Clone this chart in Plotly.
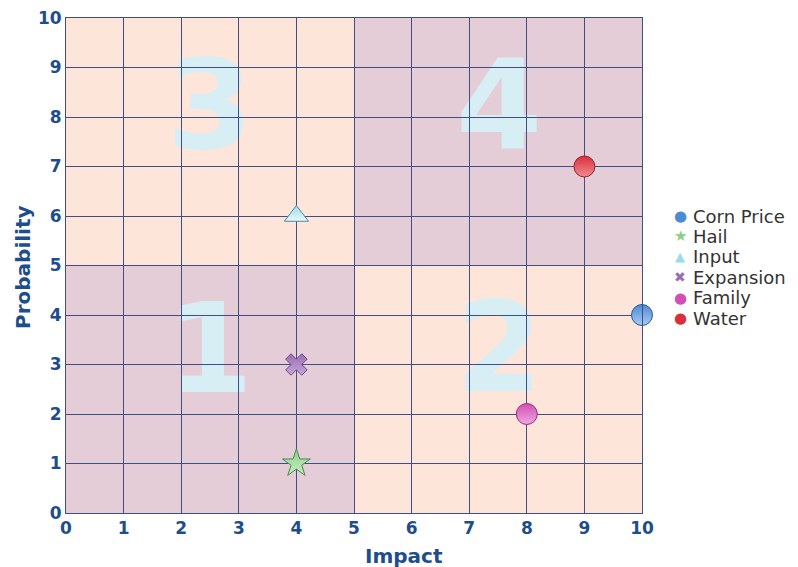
import plotly.graph_objects as go

# Risk items: impact (x) vs probability (y)
risk_names = ["Corn Price", "Hail", "Input", "Expansion", "Family", "Water"]
impact = [10, 4, 4, 4, 8, 9]
probability = [4, 1, 6, 3, 2, 7]
symbols = ["circle", "star", "triangle-up", "x", "circle", "circle"]
marker_sizes = [21, 21, 21, 19, 21, 21]
legend_glyphs = ["●", "★", "▲", "✖", "●", "●"]
fill_colors = ["#4c8ad6", "#8ccf88", "#9edbe8", "#9a6cb3", "#d24fb6", "#d9303b"]
gradient_colors = ["#a9cbf2", "#c9eec5", "#e6f8fc", "#c7a6d8", "#f0a6e0", "#f08a91"]
line_colors = ["#2a5a95", "#4d874c", "#4c8a9a", "#6f4a85", "#93307f", "#95212a"]

# Quadrant labels
quad_labels = ["1", "2", "3", "4"]
quad_x = [2.5, 7.52, 2.5, 7.52]
quad_y = [3.5, 3.52, 8.42, 8.4]

mauve = "#e5cdd8"
peach = "#fee5d9"
navy = "#1e4d8c"
grid = "#3f4f86"
font = "DejaVu Sans"

fig = go.Figure()

for name, x, y, sym, sz, fc, gc, lc in zip(risk_names, impact, probability, symbols,
                                           marker_sizes, fill_colors, gradient_colors,
                                           line_colors):
    fig.add_trace(go.Scatter(
        x=[x], y=[y], mode="markers", name=name, showlegend=False,
        marker=dict(symbol=sym, size=sz, color=fc,
                    line=dict(color=lc, width=1),
                    gradient=dict(type="vertical", color=gc)),
        cliponaxis=False,
    ))

# Quadrant fills
quads = [(0, 5, 0, 5, mauve), (5, 10, 5, 10, mauve), (0, 5, 5, 10, peach), (5, 10, 0, 5, peach)]
for x0, x1, y0, y1, c in quads:
    fig.add_shape(type="rect", x0=x0, x1=x1, y0=y0, y1=y1, fillcolor=c,
                  line=dict(width=0), layer="below")

# Big quadrant numbers, kept beneath the grid
for t, x, y in zip(quad_labels, quad_x, quad_y):
    fig.add_shape(type="rect", x0=x - 1, x1=x + 1, y0=y - 1, y1=y + 1,
                  fillcolor="rgba(0,0,0,0)", line=dict(width=0), layer="below",
                  label=dict(text=t, textposition="middle center",
                             font=dict(family=font, size=124, color="#d6eef4", weight="bold")))

axis_common = dict(
    range=[0, 10], dtick=1, tick0=0, showgrid=True, gridcolor=grid, gridwidth=1,
    zeroline=False, showline=True, linecolor=grid, linewidth=1, mirror=True,
    ticks="", fixedrange=True, automargin=False,
    tickfont=dict(family=font, size=17, color=navy, weight="bold"),
)
fig.update_xaxes(**axis_common)
fig.update_yaxes(**axis_common)

# Axis titles
fig.add_annotation(xref="paper", yref="paper", x=(404 - 66) / 576, y=-(556 - 513) / 495,
                   text="Impact", showarrow=False, xanchor="center", yanchor="middle",
                   font=dict(family=font, size=20, color=navy, weight="bold"))
fig.add_annotation(xref="paper", yref="paper", x=-(66 - 23) / 576, y=(513 - 267) / 495,
                   text="Probability", showarrow=False, textangle=-90,
                   xanchor="center", yanchor="middle",
                   font=dict(family=font, size=20, color=navy, weight="bold"))

# Legend rows
for i, (name, g, fc) in enumerate(zip(risk_names, legend_glyphs, fill_colors)):
    ypx = 216 + i * 20.4
    yp = (513 - ypx) / 495
    gsize = {"●": 15, "★": 15, "▲": 13, "✖": 14}[g]
    fig.add_annotation(xref="paper", yref="paper", x=(680 - 66) / 576, y=yp,
                       text=g, showarrow=False, xanchor="center", yanchor="middle",
                       font=dict(family=font, size=gsize, color=fc))
    fig.add_annotation(xref="paper", yref="paper", x=(691 - 66) / 576, y=yp,
                       text=name, showarrow=False, xanchor="left", yanchor="middle",
                       font=dict(family=font, size=18, color="#333333"))

fig.update_layout(
    width=798, height=567,
    margin=dict(l=66, r=156, t=18, b=54),
    paper_bgcolor="white", plot_bgcolor="white",
    showlegend=False,
)

fig.write_html("out.html")
